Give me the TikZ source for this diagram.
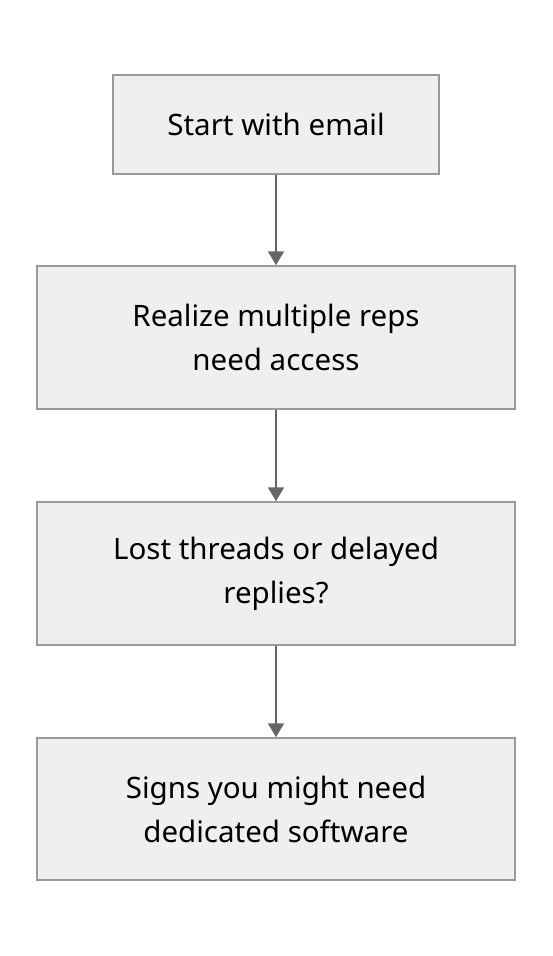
\documentclass[tikz,border=0pt]{standalone}
\usepackage{fontspec}
\setmainfont{Noto Sans}
\usetikzlibrary{arrows.meta}
\definecolor{boxfill}{HTML}{EFEFEF}
\definecolor{boxline}{HTML}{9A9A9A}
\definecolor{flowline}{HTML}{666666}

\begin{document}
\begin{tikzpicture}[x=1pt, y=-1pt,
    stepbox/.style={draw=boxline, fill=boxfill, line width=1.5pt, rectangle, inner sep=0pt,
        align=center, font=\fontsize{29.5}{44}\selectfont},
    flow/.style={-{Triangle[length=14pt, width=16pt]}, draw=flowline, line width=2pt}]
            \useasboundingbox (0,0) rectangle (552,956);

            \node[stepbox, minimum width=326pt, minimum height=99pt]  (email)   at (276,124.5) {Start with email};
            \node[stepbox, minimum width=478pt, minimum height=143pt] (access)  at (276,337.5) {Realize multiple reps\\ need access};
            \node[stepbox, minimum width=478pt, minimum height=143pt] (threads) at (276,573.5) {Lost threads or delayed\\ replies?};
            \node[stepbox, minimum width=478pt, minimum height=142pt] (signs)   at (276,809)   {Signs you might need\\ dedicated software};

            \draw[flow] (email)--(access);
            \draw[flow] (access)--(threads);
            \draw[flow] (threads)--(signs);
            \end{tikzpicture}
\end{document}
